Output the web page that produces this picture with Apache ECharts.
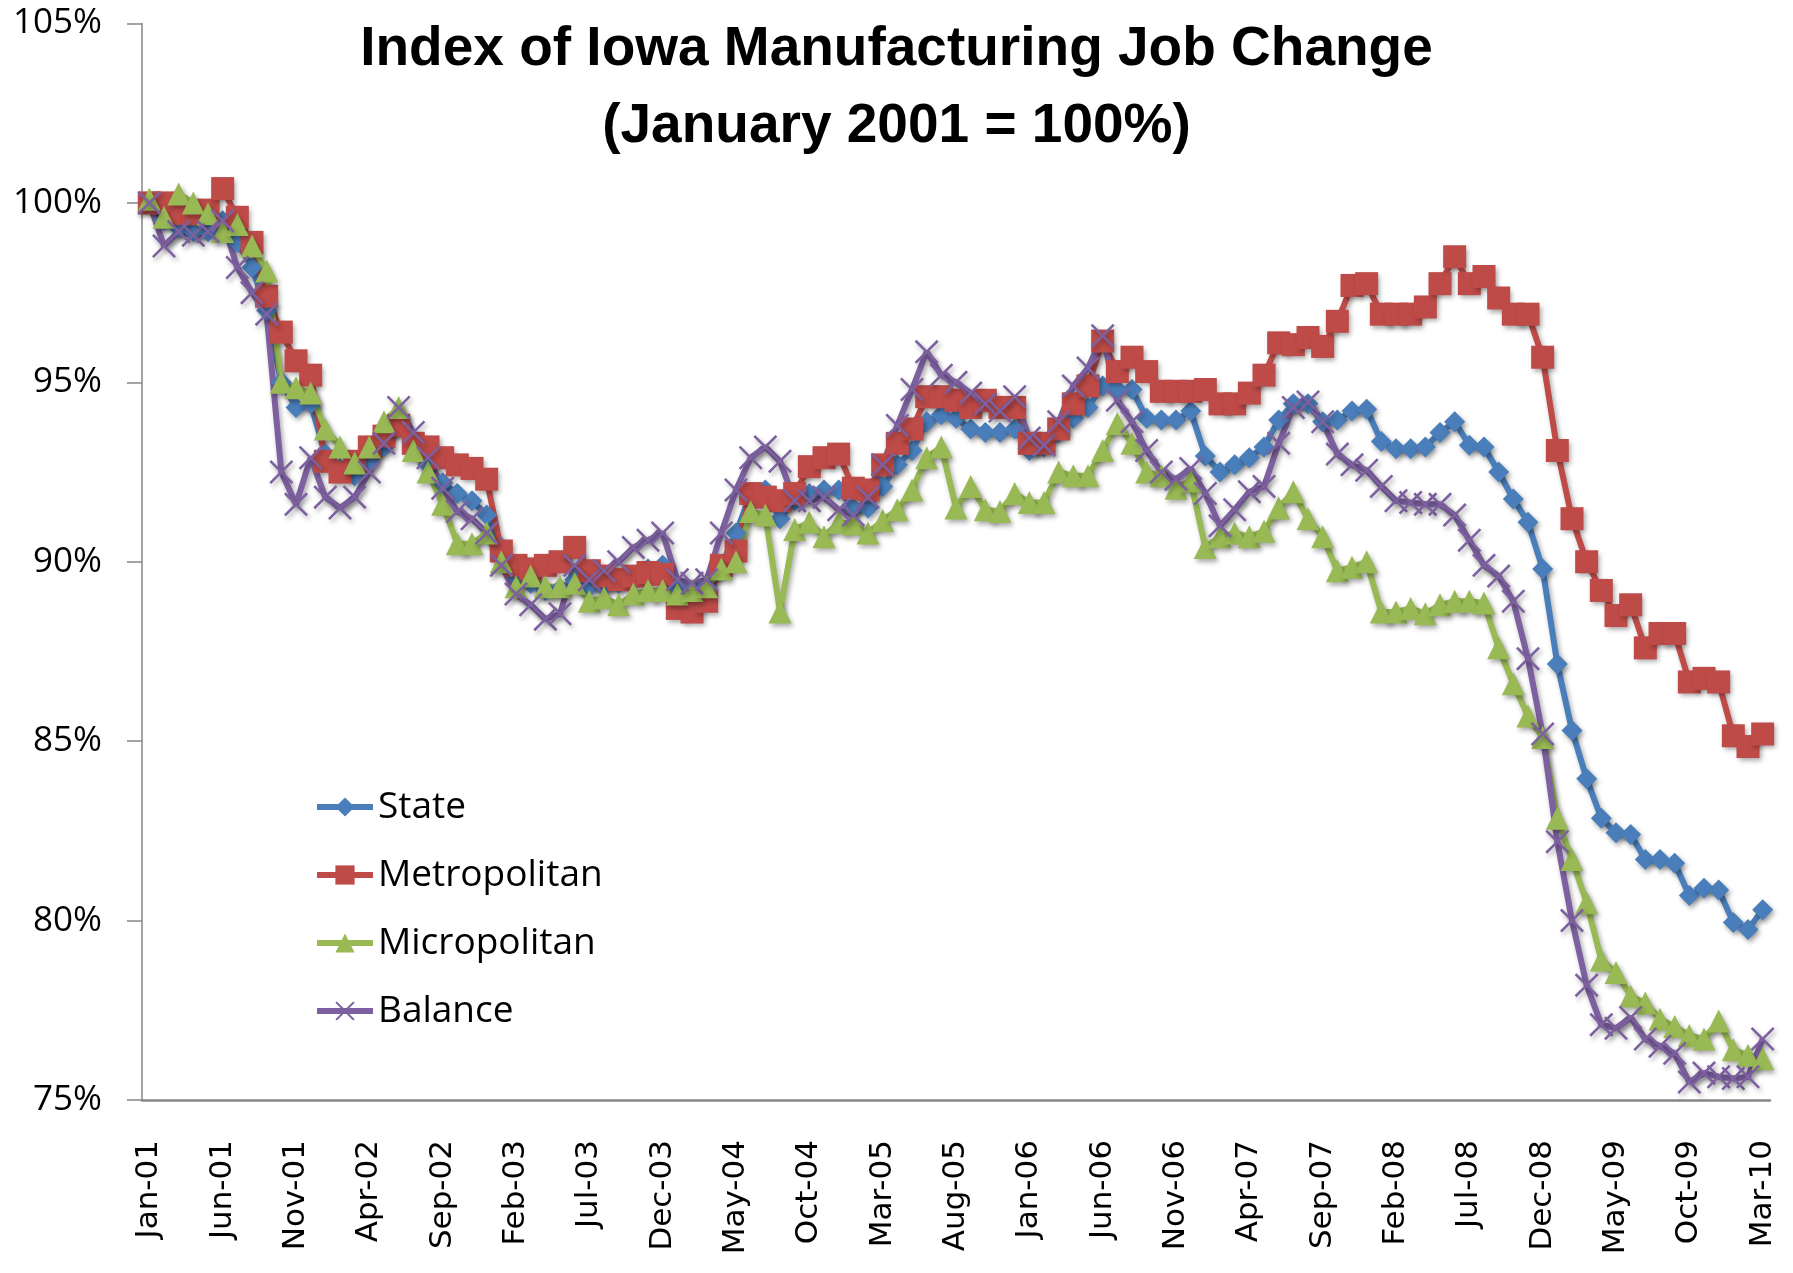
<!DOCTYPE html>
<html>
<head>
<meta charset="utf-8">
<title>Index of Iowa Manufacturing Job Change</title>
<script src="https://cdn.jsdelivr.net/npm/echarts/dist/echarts.min.js"></script>
<style>
  html, body { margin: 0; padding: 0; background: #fff; }
  #chart { width: 1793px; height: 1273px; }
</style>
</head>
<body>
<div id="chart"></div>
<script>
// month labels Jan-01 .. Mar-10
const monthNames = ['Jan', 'Feb', 'Mar', 'Apr', 'May', 'Jun', 'Jul', 'Aug', 'Sep', 'Oct', 'Nov', 'Dec'];
const years = ['01', '02', '03', '04', '05', '06', '07', '08', '09', '10'];
const categories = [];
years.forEach(y => monthNames.forEach(m => {
  if (categories.length < 111) categories.push(m + '-' + y);
}));

const yTicks = [75, 80, 85, 90, 95, 100, 105];

// index values, percent of January 2001
const state = [
  100.0, 99.5, 99.3, 99.2, 99.2, 99.5, 98.9, 98.2, 97.0, 95.0,
  94.3, 94.4, 93.0, 92.6, 92.4, 92.8, 93.2, 93.8, 93.2, 92.7,
  92.2, 91.9, 91.7, 91.3, 90.4, 89.6, 89.4, 89.2, 89.25, 89.5,
  89.3, 89.3, 89.4, 89.6, 89.8, 89.9, 89.3, 89.2, 89.3, 89.9,
  90.8, 91.9, 92.0, 91.2, 91.7, 91.9, 92.0, 92.0, 91.5, 91.5,
  92.1, 92.7, 93.1, 93.9, 94.1, 94.0, 93.7, 93.6, 93.6, 93.7,
  93.1, 93.2, 93.6, 94.0, 94.3, 94.9, 94.8, 94.8, 94.0, 93.95,
  93.95, 94.2, 92.95, 92.5, 92.7, 92.9, 93.2, 93.95, 94.4, 94.4,
  93.9, 93.95, 94.2, 94.25, 93.35, 93.15, 93.15, 93.2, 93.6, 93.9,
  93.25, 93.2, 92.5, 91.75, 91.1, 89.8, 87.15, 85.3, 83.95, 82.85,
  82.45, 82.4, 81.7, 81.7, 81.6, 80.7, 80.9, 80.85, 79.95, 79.75, 80.3
];
const metropolitan = [
  100.0, 100.0, 99.7, 99.7, 99.8, 100.4, 99.6, 98.9, 97.4, 96.4,
  95.6, 95.2, 92.8, 92.5, 92.8, 93.2, 93.5, 93.8, 93.3, 93.2,
  92.9, 92.7, 92.6, 92.3, 90.3, 89.9, 89.8, 89.9, 90.0, 90.4,
  89.75, 89.6, 89.5, 89.6, 89.7, 89.65, 88.7, 88.6, 88.9, 89.9,
  90.3, 91.9, 91.8, 91.7, 91.9, 92.65, 92.9, 93.0, 92.05, 92.0,
  92.7, 93.3, 93.7, 94.6, 94.6, 94.5, 94.3, 94.5, 94.3, 94.3,
  93.3, 93.3, 93.7, 94.4, 94.9, 96.15, 95.3, 95.7, 95.3, 94.75,
  94.75, 94.75, 94.8, 94.4, 94.4, 94.7, 95.2, 96.1, 96.05, 96.25,
  96.0, 96.7, 97.7, 97.75, 96.9, 96.9, 96.9, 97.1, 97.75, 98.5,
  97.75, 97.95, 97.35, 96.9, 96.9, 95.7, 93.1, 91.2, 90.0, 89.2,
  88.5, 88.8, 87.6, 88.0, 88.0, 86.65, 86.75, 86.65, 85.15, 84.85, 85.2
];
const micropolitan = [
  100.1, 99.6, 100.25, 100.0, 99.7, 99.2, 99.4, 98.8, 98.1, 95.0,
  94.85, 94.7, 93.7, 93.2, 92.75, 93.2, 93.9, 94.3, 93.1, 92.5,
  91.6, 90.5, 90.5, 90.8, 90.0, 89.3, 89.6, 89.3, 89.3, 89.4,
  88.9, 89.0, 88.8, 89.1, 89.2, 89.2, 89.1, 89.2, 89.3, 89.8,
  90.0, 91.4, 91.3, 88.6, 90.9, 91.1, 90.7, 91.1, 91.05, 90.8,
  91.15, 91.45, 92.0, 92.9, 93.2, 91.5, 92.1, 91.45, 91.4, 91.9,
  91.65, 91.65, 92.5, 92.4, 92.4, 93.1, 93.85, 93.3, 92.5, 92.4,
  92.05, 92.25, 90.4, 90.7, 90.8, 90.7, 90.85, 91.5, 91.95, 91.2,
  90.7, 89.75, 89.85, 90.0, 88.6, 88.6, 88.7, 88.55, 88.8, 88.9,
  88.9, 88.85, 87.6, 86.6, 85.7, 85.1, 82.85, 81.7, 80.5, 78.9,
  78.55, 77.9, 77.7, 77.25, 77.05, 76.8, 76.7, 77.2, 76.4, 76.25, 76.15
];
const balance = [
  100.0, 98.8, 99.2, 99.1, 99.2, 99.5, 98.2, 97.5, 96.9, 92.5,
  91.6, 92.9, 91.8, 91.5, 91.8, 92.5, 93.3, 94.3, 93.6, 92.9,
  92.05, 91.4, 91.2, 90.8, 89.9, 89.1, 88.8, 88.4, 88.55, 89.9,
  89.5, 89.75, 90.0, 90.4, 90.6, 90.8, 89.5, 89.4, 89.5, 90.8,
  92.0, 92.9, 93.2, 92.8, 91.7, 91.7, 91.8, 91.45, 91.3, 91.8,
  92.7, 93.8, 94.8, 95.85, 95.2, 95.0, 94.7, 94.4, 94.2, 94.6,
  93.45, 93.25, 93.9, 94.9, 95.4, 96.3, 94.5, 93.9, 93.1, 92.5,
  92.3, 92.6, 91.9, 91.0, 91.45, 91.95, 92.1, 93.3, 94.3, 94.45,
  93.9, 93.0, 92.7, 92.55, 92.1, 91.7, 91.65, 91.6, 91.6, 91.3,
  90.6, 89.9, 89.6, 88.9, 87.3, 85.2, 82.2, 80.0, 78.2, 77.1,
  77.0, 77.3, 76.7, 76.5, 76.3, 75.5, 75.75, 75.65, 75.6, 75.65, 76.7
];

// thin "x" marker for the Balance series
const xMark = 'path://M0,1.5L1.5,0L10,8.5L18.5,0L20,1.5L11.5,10L20,18.5L18.5,20L10,11.5L1.5,20L0,18.5L8.5,10Z';
const shadow = { shadowColor: 'rgba(0,0,0,0.35)', shadowBlur: 5, shadowOffsetX: 2, shadowOffsetY: 3 };

function makeSeries(name, data, color, symbol, size) {
  return {
    name: name,
    type: 'line',
    data: data,
    symbol: symbol,
    symbolSize: size,
    showAllSymbol: true,
    itemStyle: Object.assign({ color: color }, shadow),
    lineStyle: Object.assign({ color: color, width: 6 }, shadow),
    emphasis: { disabled: true }
  };
}

const chart = echarts.init(document.getElementById('chart'));
chart.setOption({
  animation: false,
  backgroundColor: '#fff',
  title: {
    text: 'Index of Iowa Manufacturing Job Change\n(January 2001 = 100%)',
    left: 'center',
    top: 6,
    textStyle: {
      fontFamily: '"Liberation Sans", sans-serif',
      fontWeight: 'bold',
      fontSize: 55,
      lineHeight: 77,
      color: '#000'
    }
  },
  legend: {
    orient: 'vertical',
    left: 314,
    top: 785,
    padding: 0,
    itemWidth: 56,
    itemHeight: 24,
    itemGap: 24,
    data: ['State', 'Metropolitan', 'Micropolitan', 'Balance'],
    lineStyle: { width: 6, shadowBlur: 0 },
    itemStyle: { shadowBlur: 0 },
    textStyle: {
      fontFamily: '"Open Sans", sans-serif',
      fontSize: 37,
      lineHeight: 44,
      color: '#000'
    }
  },
  grid: { left: 142, right: 23, top: 23.5, bottom: 173 },
  xAxis: {
    type: 'category',
    data: categories,
    boundaryGap: true,
    axisLine: { lineStyle: { color: '#868686', width: 2.5 } },
    axisTick: { show: false },
    axisLabel: {
      interval: 4,
      rotate: 90,
      margin: 40,
      fontFamily: '"DejaVu Sans", sans-serif',
      fontSize: 31,
      color: '#000'
    },
    splitLine: { show: false }
  },
  yAxis: {
    type: 'value',
    min: yTicks[0],
    max: yTicks[yTicks.length - 1],
    interval: 5,
    axisLine: { show: true, lineStyle: { color: '#868686', width: 1.5 } },
    axisTick: { show: true, length: 15, lineStyle: { color: '#868686', width: 1.5 } },
    axisLabel: {
      formatter: '{value}%',
      margin: 40,
      fontFamily: '"Open Sans", sans-serif',
      fontSize: 35,
      color: '#000'
    },
    splitLine: { show: false }
  },
  series: [
    makeSeries('State', state, '#4A7EBB', 'diamond', 21),
    makeSeries('Metropolitan', metropolitan, '#BE4B48', 'rect', 23),
    makeSeries('Micropolitan', micropolitan, '#98B954', 'triangle', 23),
    makeSeries('Balance', balance, '#7D60A0', xMark, 24)
  ]
});
</script>
</body>
</html>
